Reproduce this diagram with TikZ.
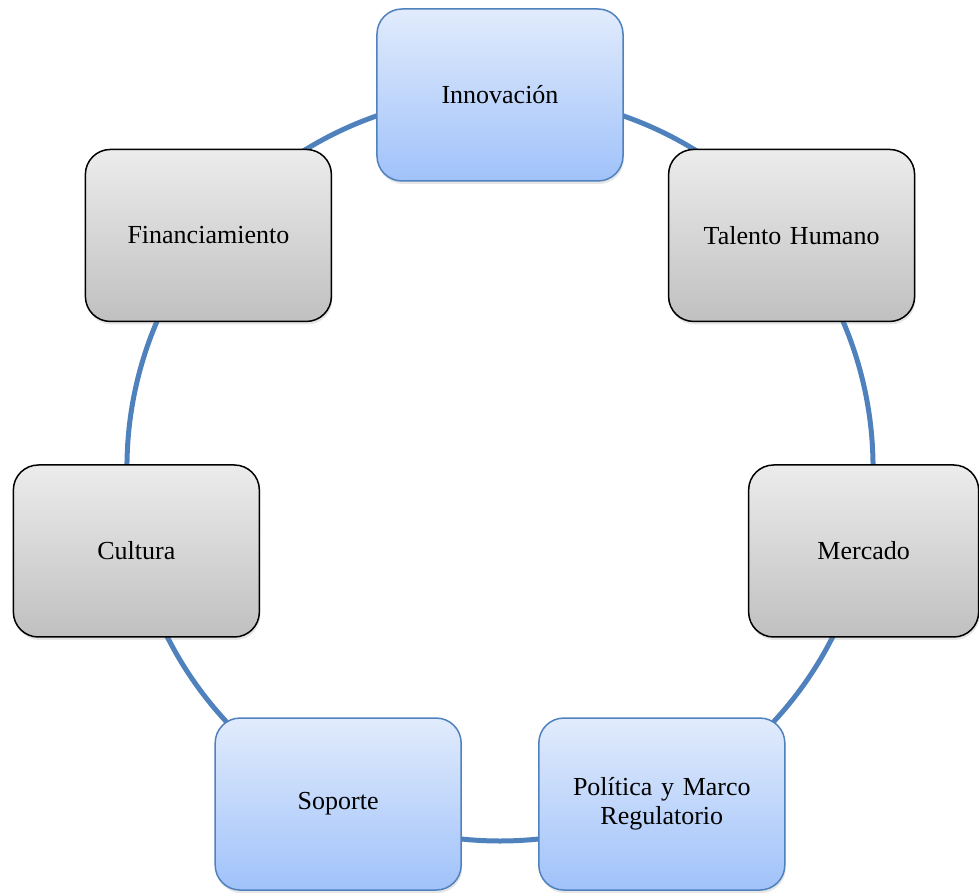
\documentclass[tikz,border=0pt]{standalone}
\usepackage{fontspec}
\setmainfont{Liberation Serif}
\usetikzlibrary{backgrounds,shadows}
\definecolor{ringblue}{RGB}{79,129,189}
\definecolor{bluetop}{RGB}{225,235,252}
\definecolor{bluebot}{RGB}{160,194,250}
\definecolor{graytop}{RGB}{236,236,236}
\definecolor{graybot}{RGB}{192,192,192}

\begin{document}
\begin{tikzpicture}[x=1pt, y=1pt,
	card/.style 2 args={
		rectangle,
		rounded corners=25pt,
		draw=#1,
		line width=1.5pt,
		top color=#2top,
		bottom color=#2bot,
		minimum width=246pt,
		minimum height=172pt,
		text width=210pt,
		align=center,
		font=\fontsize{26}{29}\selectfont,
		drop shadow={opacity=0.2, shadow xshift=1pt, shadow yshift=-3pt}},
	ring/.style={draw=ringblue, line width=5pt}]
	\useasboundingbox (-500,-426) rectangle (479,468);
	% draw the seven boxes round the ring
	\foreach \t/\d/\c/\w [count=\step from 0] in {Innovación/ringblue/blue/246, Talento Humano/black/gray/246, Mercado/black/gray/230, Política y Marco Regulatorio/ringblue/blue/246, Soporte/ringblue/blue/246, Cultura/black/gray/246, Financiamiento/black/gray/246}
	\node[card={\d}{\c}, minimum width=\w pt] (n\step) at ({90-\step*360/7}:373) {\t};
	% draw ring links behind the boxes
	\begin{scope}[on background layer]
		\foreach \step in {0,...,6} {
			\pgfmathtruncatemacro{\next}{mod(\step+1,7)}
			\draw[ring] (n\step.center) to[bend left=25.71, looseness=0.9] (n\next.center);
		}
	\end{scope}
\end{tikzpicture}
\end{document}
